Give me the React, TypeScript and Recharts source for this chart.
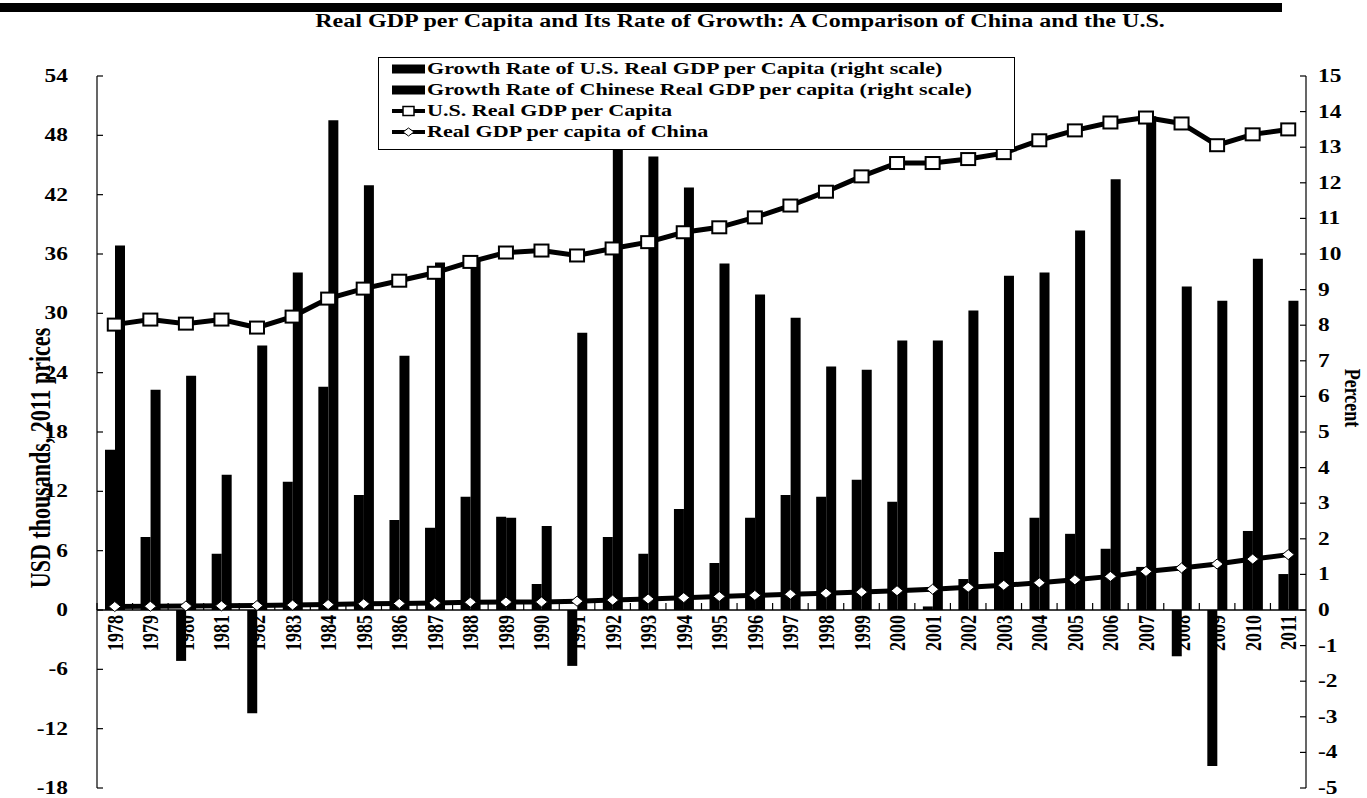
import React from 'react';
import { ComposedChart, Bar, Line, XAxis, YAxis, Legend, ReferenceLine } from 'recharts';

// values
const years = [
  '1978', '1979', '1980', '1981', '1982', '1983', '1984', '1985', '1986', '1987', '1988', '1989',
  '1990', '1991', '1992', '1993', '1994', '1995', '1996', '1997', '1998', '1999', '2000', '2001',
  '2002', '2003', '2004', '2005', '2006', '2007', '2008', '2009', '2010', '2011',
];
// percent, right scale
const usGrowth = [
  4.5, 2.05, -1.43, 1.58, -2.9, 3.6, 6.27, 3.23, 2.53, 2.31, 3.18, 2.62,
  0.73, -1.57, 2.05, 1.58, 2.84, 1.32, 2.59, 3.23, 3.18, 3.66, 3.04, 0.1,
  0.87, 1.63, 2.59, 2.14, 1.72, 1.21, -1.3, -4.38, 2.22, 1.01,
];
const chinaGrowth = [
  10.24, 6.19, 6.58, 3.8, 7.43, 9.48, 13.76, 11.93, 7.14, 9.76, 9.8, 2.59,
  2.36, 7.79, 13.1, 12.74, 11.87, 9.73, 8.86, 8.21, 6.84, 6.75, 7.57, 7.57,
  8.41, 9.39, 9.48, 10.66, 12.1, 13.87, 9.09, 8.69, 9.87, 8.69,
];
// USD thousands, left scale
const usGdp = [
  28.86, 29.37, 28.96, 29.37, 28.56, 29.67, 31.49, 32.5, 33.3, 34.1, 35.2, 36.15,
  36.35, 35.85, 36.56, 37.2, 38.2, 38.7, 39.7, 40.9, 42.3, 43.85, 45.2, 45.2,
  45.6, 46.2, 47.5, 48.5, 49.3, 49.8, 49.2, 47.0, 48.1, 48.6,
];
const chinaGdp = [
  0.35, 0.38, 0.4, 0.42, 0.45, 0.5, 0.55, 0.62, 0.66, 0.72, 0.79, 0.81,
  0.82, 0.89, 1.0, 1.12, 1.25, 1.37, 1.48, 1.59, 1.7, 1.81, 1.95, 2.1,
  2.3, 2.5, 2.75, 3.05, 3.4, 3.9, 4.25, 4.65, 5.15, 5.6,
];
const leftTicks = [-18, -12, -6, 0, 6, 12, 18, 24, 30, 36, 42, 48, 54];
const rightTicks = [-5, -4, -3, -2, -1, 0, 1, 2, 3, 4, 5, 6, 7, 8, 9, 10, 11, 12, 13, 14, 15];

const data = years.map((year, i) => ({
  year,
  usGrowth: usGrowth[i],
  chinaGrowth: chinaGrowth[i],
  usGdp: usGdp[i],
  chinaGdp: chinaGdp[i],
}));

const W = 1367;
const H = 798;
const LEFT_W = 97;
const RIGHT_W = 61;
const TOP = 76;
const BOTTOM = 10;
const X_AXIS_H = 1;
const PLOT_W = W - LEFT_W - RIGHT_W;
const PLOT_H = H - TOP - BOTTOM;
const BAND = PLOT_W / years.length;
// y of the zero line, from the left axis domain
const ZERO_Y = TOP + (PLOT_H * leftTicks[leftTicks.length - 1]) / (leftTicks[leftTicks.length - 1] - leftTicks[0]);

const FONT = '"Liberation Serif", "Times New Roman", serif';
const SX = 1.3; // the print is stretched sideways

const seriesOrder = ['usGrowth', 'chinaGrowth', 'usGdp', 'chinaGdp'];

function LeftTick(props: any) {
  const { x, y, payload } = props;
  return (
    <g>
      <line x1={x} x2={x + 6} y1={y} y2={y} stroke="#000" strokeWidth={1.2} />
      <text
        transform={`translate(${x - 29},${y + 6}) scale(${SX},1)`}
        textAnchor="end"
        fontFamily={FONT}
        fontWeight="bold"
        fontSize={18}
        fill="#000"
      >
        {payload.value}
      </text>
    </g>
  );
}

function RightTick(props: any) {
  const { x, y, payload } = props;
  return (
    <g>
      <line x1={x - 6} x2={x} y1={y} y2={y} stroke="#000" strokeWidth={1.2} />
      <text
        transform={`translate(${x + 12},${y + 6}) scale(${SX},1)`}
        textAnchor="start"
        fontFamily={FONT}
        fontWeight="bold"
        fontSize={18}
        fill="#000"
      >
        {payload.value}
      </text>
    </g>
  );
}

function YearTick(props: any) {
  const { x, payload } = props;
  const bx = x - BAND / 2;
  return (
    <g>
      <line x1={bx} x2={bx} y1={ZERO_Y} y2={ZERO_Y - 7} stroke="#000" strokeWidth={1.2} />
      <text
        transform={`translate(${x + 8},${ZERO_Y + 5}) scale(${SX},1) rotate(-90)`}
        textAnchor="end"
        fontFamily={FONT}
        fontWeight="bold"
        fontSize={18}
        fill="#000"
      >
        {payload.value}
      </text>
    </g>
  );
}

function SquareDot(props: any) {
  const { cx, cy } = props;
  if (cx == null || cy == null) return null;
  return <rect x={cx - 7} y={cy - 6} width={14} height={12} fill="#fff" stroke="#000" strokeWidth={2} />;
}

function DiamondDot(props: any) {
  const { cx, cy } = props;
  if (cx == null || cy == null) return null;
  return (
    <polygon
      points={`${cx - 6},${cy} ${cx},${cy - 5} ${cx + 6},${cy} ${cx},${cy + 5}`}
      fill="#fff"
      stroke="#000"
      strokeWidth={1}
    />
  );
}

function LegendIcon({ dataKey }: { dataKey: string }) {
  if (dataKey === 'usGrowth' || dataKey === 'chinaGrowth') {
    return (
      <svg width={33} height={12} style={{ flex: 'none' }}>
        <rect x={0} y={1.5} width={33} height={9} fill="#000" />
      </svg>
    );
  }
  return (
    <svg width={33} height={12} style={{ flex: 'none' }}>
      <line x1={0} x2={33} y1={6} y2={6} stroke="#000" strokeWidth={4} />
      {dataKey === 'usGdp' ? (
        <rect x={11} y={1.5} width={11} height={9} fill="#fff" stroke="#000" strokeWidth={1.5} />
      ) : (
        <polygon points="11,6 16.5,2 22,6 16.5,10" fill="#fff" stroke="#000" strokeWidth={1} />
      )}
    </svg>
  );
}

function LegendBox(props: any) {
  const items = [...(props.payload || [])].sort(
    (a: any, b: any) => seriesOrder.indexOf(a.dataKey) - seriesOrder.indexOf(b.dataKey)
  );
  return (
    <div
      style={{
        border: '1.5px solid #000',
        background: '#fff',
        height: 93,
        boxSizing: 'border-box',
        padding: '0 0 0 13px',
        fontFamily: FONT,
        fontWeight: 'bold',
        fontSize: 17,
        color: '#000',
      }}
    >
      {items.map((entry: any) => (
        <div key={entry.dataKey} style={{ display: 'flex', alignItems: 'center', height: 21 }}>
          <LegendIcon dataKey={entry.dataKey} />
          <span
            style={{
              display: 'inline-block',
              marginLeft: 2,
              whiteSpace: 'nowrap',
              transform: `scaleX(${SX})`,
              transformOrigin: 'left center',
            }}
          >
            {entry.value}
          </span>
        </div>
      ))}
    </div>
  );
}

export default function App() {
  return (
    <div style={{ position: 'relative', width: W, height: H, background: '#fff', overflow: 'hidden' }}>
      <style>{'body{margin:0;}'}</style>
      <div style={{ position: 'absolute', left: 0, top: 3, width: 1282, height: 9, background: '#000' }} />
      <div
        style={{
          position: 'absolute',
          left: 740,
          top: 11,
          whiteSpace: 'nowrap',
          fontFamily: FONT,
          fontWeight: 'bold',
          fontSize: 18.5,
          transform: `translateX(-50%) scaleX(${SX})`,
        }}
      >
        Real GDP per Capita and Its Rate of Growth: A Comparison of China and the U.S.
      </div>
      <div
        style={{
          position: 'absolute',
          left: 41,
          top: 458,
          whiteSpace: 'nowrap',
          fontFamily: FONT,
          fontWeight: 'bold',
          fontSize: 22,
          transform: `translate(-50%,-50%) rotate(-90deg) scaleY(${SX})`,
        }}
      >
        USD thousands, 2011 prices
      </div>
      <div
        style={{
          position: 'absolute',
          left: 1352,
          top: 398,
          whiteSpace: 'nowrap',
          fontFamily: FONT,
          fontWeight: 'bold',
          fontSize: 18,
          transform: `translate(-50%,-50%) rotate(90deg) scaleY(${SX})`,
        }}
      >
        Percent
      </div>
      <div style={{ position: 'absolute', left: 0, top: 0 }}>
        <ComposedChart
          width={W}
          height={H}
          data={data}
          margin={{ top: TOP, right: 0, bottom: BOTTOM - X_AXIS_H, left: 0 }}
          barGap={0}
        >
          <XAxis
            dataKey="year"
            xAxisId={0}
            height={X_AXIS_H}
            interval={0}
            axisLine={false}
            tickLine={false}
            tick={<YearTick />}
          />
          <YAxis
            yAxisId="left"
            orientation="left"
            width={LEFT_W}
            domain={[leftTicks[0], leftTicks[leftTicks.length - 1]]}
            ticks={leftTicks}
            interval={0}
            allowDataOverflow
            tickSize={0}
            tickMargin={0}
            tickLine={false}
            axisLine={{ stroke: '#000', strokeWidth: 1.2 }}
            tick={<LeftTick />}
          />
          <YAxis
            yAxisId="right"
            orientation="right"
            width={RIGHT_W}
            domain={[rightTicks[0], rightTicks[rightTicks.length - 1]]}
            ticks={rightTicks}
            interval={0}
            allowDataOverflow
            tickSize={0}
            tickMargin={0}
            tickLine={false}
            axisLine={{ stroke: '#000', strokeWidth: 1.2 }}
            tick={<RightTick />}
          />
          <Legend
            layout="vertical"
            align="center"
            verticalAlign="middle"
            content={<LegendBox />}
            wrapperStyle={{ position: 'absolute', left: 378, top: 57, width: 637, height: 93 }}
          />
          <Bar
            yAxisId="right"
            dataKey="usGrowth"
            name="Growth Rate of U.S. Real GDP per Capita (right scale)"
            fill="#000"
            barSize={10}
            isAnimationActive={false}
          />
          <Bar
            yAxisId="right"
            dataKey="chinaGrowth"
            name="Growth Rate of Chinese Real GDP per capita (right scale)"
            fill="#000"
            barSize={10}
            isAnimationActive={false}
          />
          <ReferenceLine yAxisId="left" y={0} stroke="#000" strokeWidth={1.5} />
          <Line
            yAxisId="left"
            type="linear"
            dataKey="usGdp"
            name="U.S. Real GDP per Capita"
            stroke="#000"
            strokeWidth={5}
            dot={<SquareDot />}
            activeDot={false}
            isAnimationActive={false}
          />
          <Line
            yAxisId="left"
            type="linear"
            dataKey="chinaGdp"
            name="Real GDP per capita of China"
            stroke="#000"
            strokeWidth={5}
            dot={<DiamondDot />}
            activeDot={false}
            isAnimationActive={false}
          />
        </ComposedChart>
      </div>
    </div>
  );
}
